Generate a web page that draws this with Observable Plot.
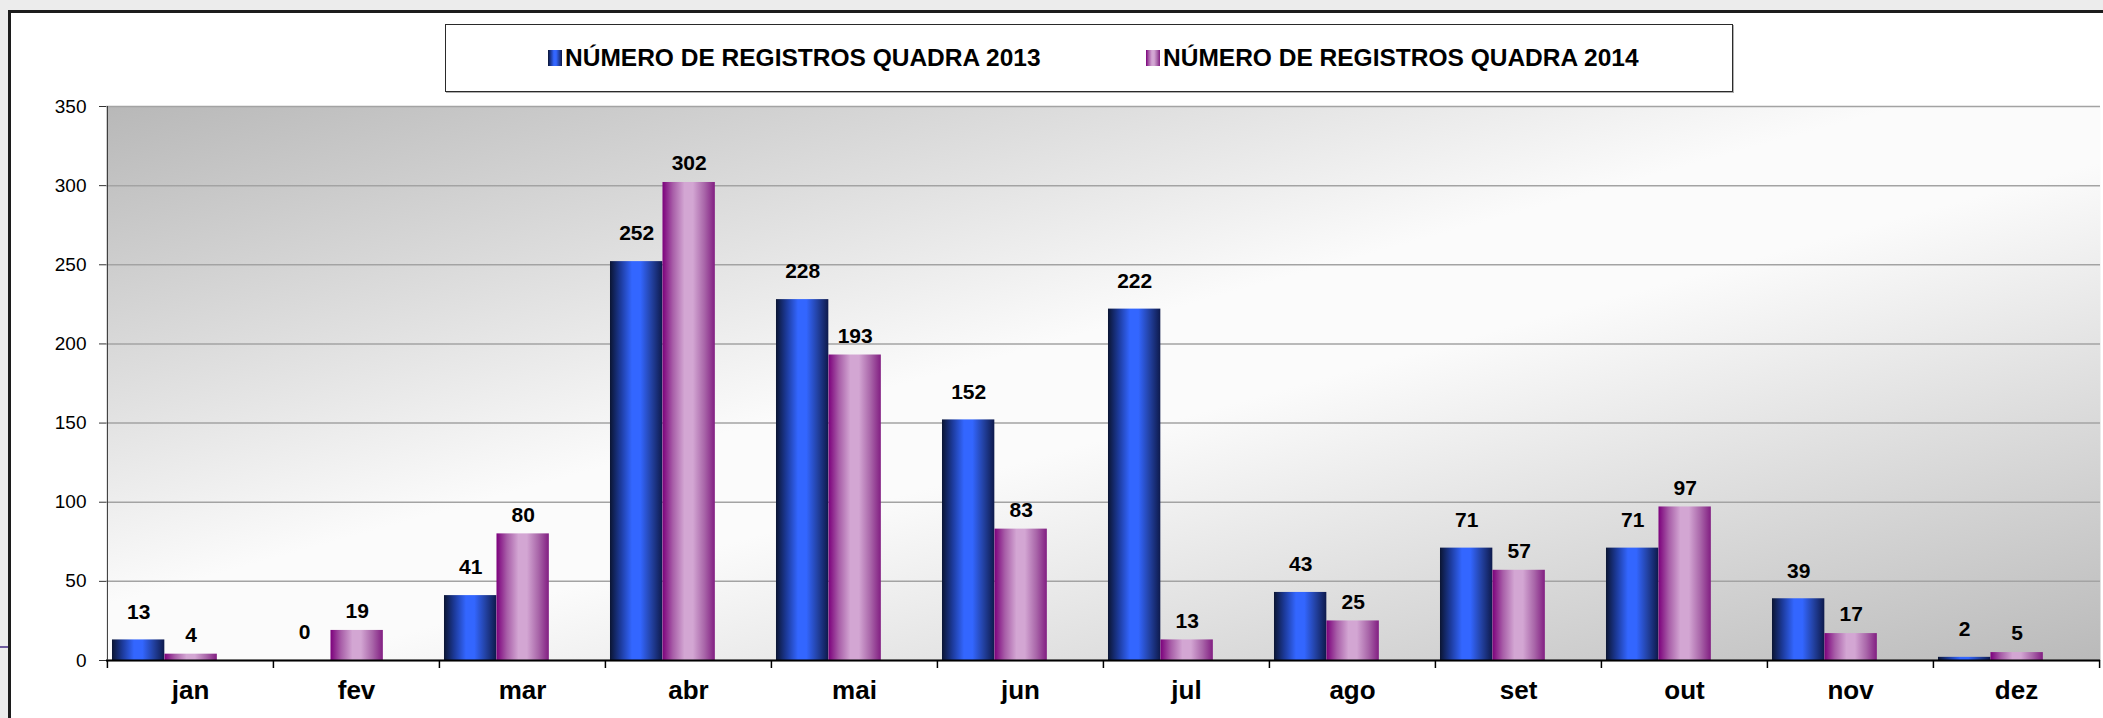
<!DOCTYPE html>
<html>
<head>
<meta charset="utf-8">
<script src="https://cdn.jsdelivr.net/npm/d3@7"></script>
<script src="https://cdn.jsdelivr.net/npm/@observablehq/plot@0.6"></script>
<style>
  html, body { margin: 0; padding: 0; }
  body { width: 2103px; height: 718px; overflow: hidden; position: relative; background: #ececec; font-family: "Liberation Sans", Arial, sans-serif; }
  #frame { position: absolute; left: 8px; top: 10px; width: 2120px; height: 730px; background: #ffffff; border-left: 3px solid #1c1c1c; border-top: 3px solid #1c1c1c; }
  #sideline { position: absolute; left: 0; top: 646px; width: 8px; height: 2px; background: #6d5a9c; }
  #chart { position: absolute; left: 0; top: 0; }
  #legend { position: absolute; left: 445px; top: 24px; width: 1286px; height: 66px; border: 1px solid #2a2a2a; background: #fff; box-shadow: 1px 1px 0 #b0b0b0; }
  .item { position: absolute; top: 0; height: 66px; display: flex; align-items: center; font-weight: bold; font-size: 24.5px; color: #000; white-space: nowrap; }
  .sw { display: inline-block; width: 14px; height: 16px; margin-right: 3px; }
</style>
</head>
<body>
<div id="frame"></div>
<div id="sideline"></div>
<div id="chart"></div>
<div id="legend"></div>
<script>
const months = ["jan", "fev", "mar", "abr", "mai", "jun", "jul", "ago", "set", "out", "nov", "dez"];
const v2013 = [13, 0, 41, 252, 228, 152, 222, 43, 71, 71, 39, 2];
const v2014 = [4, 19, 80, 302, 193, 83, 13, 25, 57, 97, 17, 5];
const seriesNames = ["NÚMERO DE REGISTROS QUADRA 2013", "NÚMERO DE REGISTROS QUADRA 2014"];
const yTicks = [0, 50, 100, 150, 200, 250, 300, 350];

const blueStops = [[0, "#0b1533"], [0.2, "#1c3a9a"], [0.42, "#3366ff"], [0.58, "#3366ff"], [0.8, "#22409f"], [1, "#0e1a4c"]];
const pinkStops = [[0, "#7c007c"], [0.2, "#a85ea8"], [0.42, "#d3a6d3"], [0.58, "#d3a6d3"], [0.8, "#a966a9"], [1, "#821e82"]];

const rows = months.map((m, i) => ({month: m, a: v2013[i], b: v2014[i]}));

const W = 2103, H = 718, ML = 106, MR = 3, MT = 106, MB = 58;
const bw = (W - ML - MR) / months.length;
const lead = bw * 0.03;
const barW = bw * 0.316;
const font = "'Liberation Sans', Arial, sans-serif";

const chart = Plot.plot({
  width: W,
  height: H,
  marginLeft: ML,
  marginRight: MR,
  marginTop: MT,
  marginBottom: MB,
  style: {background: "transparent", fontFamily: font, color: "#000", overflow: "visible"},
  x: {domain: months, padding: 0, axis: null, label: null},
  y: {domain: [0, 350], axis: null, label: null},
  marks: [
    Plot.frame({fill: "url(#bgGrad)", stroke: null}),
    Plot.gridY(yTicks, {stroke: "#a3a3a3", strokeOpacity: 1, strokeWidth: 1.5}),
    Plot.barY(rows, {x: "month", y: "a", fill: "url(#gBlue)", insetLeft: lead, insetRight: bw - lead - barW}),
    Plot.barY(rows, {x: "month", y: "b", fill: "url(#gPink)", insetLeft: lead + barW, insetRight: bw - lead - 2 * barW}),
    Plot.text(rows, {x: "month", y: "a", text: "a", dx: lead + barW / 2 - bw / 2, dy: -28, fontSize: 21, fontWeight: "bold", fill: "#000"}),
    Plot.text(rows, {x: "month", y: "b", text: "b", dx: lead + 1.5 * barW - bw / 2, dy: -19, fontSize: 21, fontWeight: "bold", fill: "#000"}),
    Plot.ruleY([0], {stroke: "#000", strokeWidth: 2}),
    Plot.ruleX([months[0]], {x: d => d, dx: -bw / 2, stroke: "#333", strokeWidth: 1}),
    Plot.ruleX(months, {x: d => d, dx: -bw / 2, insetTop: H - MT - MB, insetBottom: -8, stroke: "#000", strokeWidth: 1.5}),
    Plot.ruleX([months[months.length - 1]], {x: d => d, dx: bw / 2, insetTop: H - MT - MB, insetBottom: -8, stroke: "#000", strokeWidth: 1.5}),
    Plot.axisY(yTicks, {anchor: "left", label: null, tickSize: 7, tickPadding: 13, fontSize: 19, stroke: "#333", fill: "#000"}),
    Plot.axisX({anchor: "bottom", label: null, tickSize: 0, tickPadding: 20, fontSize: 26, fontWeight: "bold", fill: "#000"})
  ]
});

const svg = d3.select(chart);
const defs = svg.insert("defs", ":first-child");
const bg = defs.append("linearGradient").attr("id", "bgGrad").attr("x1", 0).attr("y1", 0).attr("x2", 1).attr("y2", 1);
[[0, "#b8b8b8"], [0.45, "#fbfbfb"], [0.55, "#fbfbfb"], [1, "#bababa"]].forEach(([o, c]) => bg.append("stop").attr("offset", o).attr("stop-color", c));
function addBarGrad(id, stops) {
  const g = defs.append("linearGradient").attr("id", id).attr("x1", 0).attr("y1", 0).attr("x2", 1).attr("y2", 0);
  stops.forEach(([o, c]) => g.append("stop").attr("offset", o).attr("stop-color", c));
}
addBarGrad("gBlue", blueStops);
addBarGrad("gPink", pinkStops);
svg.selectAll("[aria-label='y-axis tick label'] text").attr("font-size", 19);
svg.selectAll("[aria-label='x-axis tick label'] text").attr("font-size", 26).attr("font-weight", "bold");
document.getElementById("chart").appendChild(chart);

// legend
const cssGrad = stops => "linear-gradient(to right, " + stops.map(([o, c]) => c + " " + (o * 100) + "%").join(", ") + ")";
const legend = document.getElementById("legend");
const legendX = [102, 700];
seriesNames.forEach((name, i) => {
  const item = document.createElement("div");
  item.className = "item";
  item.style.left = legendX[i] + "px";
  const sw = document.createElement("span");
  sw.className = "sw";
  sw.style.background = cssGrad(i === 0 ? blueStops : pinkStops);
  const t = document.createElement("span");
  t.textContent = name;
  item.appendChild(sw);
  item.appendChild(t);
  legend.appendChild(item);
});
</script>
</body>
</html>
